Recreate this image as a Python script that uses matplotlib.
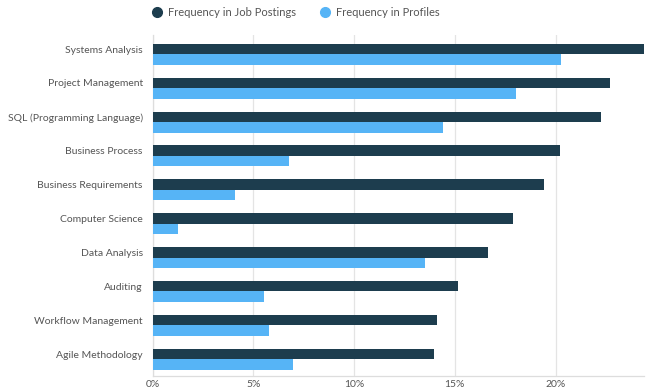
import matplotlib
matplotlib.use("Agg")
import matplotlib.pyplot as plt
from matplotlib.lines import Line2D
import numpy as np

categories = ["Systems Analysis", "Project Management", "SQL (Programming Language)",
              "Business Process", "Business Requirements", "Computer Science",
              "Data Analysis", "Auditing", "Workflow Management", "Agile Methodology"]
postings = [24.38, 22.69, 22.26, 20.23, 19.42, 17.88, 16.66, 15.15, 14.10, 13.98]
profiles = [20.26, 18.05, 14.43, 6.79, 4.11, 1.28, 13.53, 5.55, 5.76, 6.99]
xticks = [0, 5, 10, 15, 20]
xticklabels = ["0%", "5%", "10%", "15%", "20%"]

plt.rcParams['font.family'] = ['Lato', 'DejaVu Sans']
dark = "#1d3d4e"
light = "#56b4f6"

fig = plt.figure(figsize=(6.49, 3.92), dpi=100)
ax = fig.add_axes([0.235, 0.0408, 0.757, 0.8699])

y = np.arange(len(categories))
h = 0.31
ax.barh(y, postings, height=h, color=dark, zorder=3)
ax.barh(y + h, profiles, height=h, color=light, zorder=3)

ax.set_xlim(0, 24.38)
ax.set_ylim(9.649, -0.413)
ax.set_yticks(y)
ax.set_yticklabels(categories, fontsize=7.5, color="#555555")
ax.set_xticks(xticks)
ax.set_xticklabels(xticklabels, fontsize=7.5, color="#555555")
ax.tick_params(axis='y', length=0, pad=7)
ax.tick_params(axis='x', length=0, pad=3)
ax.grid(axis='x', color="#e4e4e4", linewidth=0.9, zorder=0)
for s in ["top", "right"]:
    ax.spines[s].set_visible(False)
ax.spines["left"].set_color("#dddddd")
ax.spines["bottom"].set_color("#dddddd")
ax.spines["left"].set_linewidth(0.9)
ax.spines["bottom"].set_linewidth(0.9)

handles = [Line2D([], [], marker='o', linestyle='none', markersize=7, color=dark),
           Line2D([], [], marker='o', linestyle='none', markersize=7, color=light)]
fig.legend(handles, ["Frequency in Job Postings", "Frequency in Profiles"],
           loc='center', bbox_to_anchor=(0.451, 0.968), ncol=2, frameon=False,
           fontsize=8, handletextpad=0.0, columnspacing=1.6, labelcolor="#555555")

fig.savefig("out.png", dpi=100)
